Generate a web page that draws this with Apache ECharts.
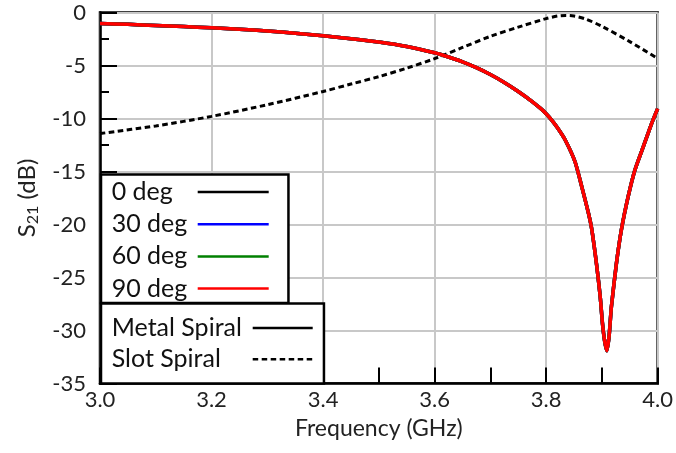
<!DOCTYPE html>
<html>
<head>
<meta charset="utf-8">
<script src="https://cdn.jsdelivr.net/npm/echarts@6/dist/echarts.min.js"></script>
<style>html,body{margin:0;padding:0;background:#fff}#c{width:676px;height:453px}</style>
</head>
<body>
<div id="c"></div>
<script>
// Frequency (GHz) and S21 (dB)
var metalFreq = [3.00,3.05,3.10,3.15,3.20,3.25,3.30,3.35,3.40,3.45,3.50,3.55,3.60,3.625,3.65,3.675,3.70,3.725,3.75,3.775,3.79,3.80,3.81,3.82,3.834,3.852,3.864,3.876,3.882,3.891,3.897,3.901,3.905,3.909,3.913,3.917,3.926,3.935,3.947,3.959,3.974,3.989,4.00];
var metalS21  = [-1.04,-1.12,-1.22,-1.33,-1.45,-1.58,-1.74,-1.95,-2.2,-2.47,-2.78,-3.2,-3.8,-4.2,-4.65,-5.2,-5.85,-6.6,-7.45,-8.4,-9.05,-9.55,-10.15,-10.85,-12.0,-14.1,-16.45,-18.96,-20.5,-24.0,-26.8,-29.3,-31.0,-31.9,-30.5,-27.8,-23.7,-20.5,-17.4,-14.9,-12.7,-10.5,-9.07];
var slotFreq = [3.0,3.1,3.2,3.3,3.4,3.45,3.5,3.55,3.6,3.65,3.7,3.75,3.8,3.82,3.835,3.85,3.87,3.9,3.95,4.0];
var slotS21  = [-11.42,-10.7,-9.8,-8.7,-7.45,-6.75,-6.05,-5.25,-4.35,-3.3,-2.25,-1.38,-0.58,-0.34,-0.28,-0.33,-0.6,-1.3,-2.75,-4.34];
var angleNames = ['0 deg','30 deg','60 deg','90 deg'];
var angleColors = ['#000000','#0000ff','#008000','#ff0000'];
var typeNames = ['Metal Spiral','Slot Spiral'];

function pairs(xs, ys){ return xs.map(function(x,i){ return [x, ys[i]]; }); }

var FONT = 'Lato';
var series = [];
series.push({name:'Slot Spiral', type:'line', data:pairs(slotFreq, slotS21), symbol:'none', smooth:0.3,
  lineStyle:{color:'#000', width:3, type:[5.5,3.5]}, itemStyle:{color:'#000'}, z:3});
angleNames.forEach(function(n,i){
  series.push({name:n, type:'line', data:pairs(metalFreq, metalS21), symbol:'none', smooth:0.2,
    lineStyle:{color:angleColors[i], width:3.5}, itemStyle:{color:angleColors[i]}, z:4+i});
});
series.push({name:'Metal Spiral', type:'line', data:[], symbol:'none',
  lineStyle:{color:'#000', width:3}, itemStyle:{color:'#000'}});

function legendCfg(names, top, pad, gap, iconW, textW){
  return {data:names, orient:'vertical', left:101, top:top, align:'right',
    backgroundColor:'#fff', borderColor:'#000', borderWidth:2.5, borderRadius:0,
    padding:pad, itemGap:gap, itemWidth:iconW, itemHeight:4,
    lineStyle:{width:2.5}, itemStyle:{color:'rgba(0,0,0,0)', borderWidth:0, opacity:0},
    selectedMode:false, z:10,
    formatter:function(n){ return '{t|' + n + '}'; },
    textStyle:{rich:{t:{fontFamily:FONT, fontSize:25, color:'#111', width:textW, align:'left', lineHeight:26}}}
  };
}

var chart = echarts.init(document.getElementById('c'), null, {renderer:'canvas'});
chart.setOption({
  animation:false,
  backgroundColor:'#fff',
  textStyle:{fontFamily:FONT},
  grid:{left:100, right:16.5, top:12.5, bottom:69.5, show:true, borderColor:'#000', borderWidth:2.5, containLabel:false},
  xAxis:{type:'value', min:3.0, max:4.0, interval:0.2,
    name:'Frequency (GHz)', nameLocation:'middle', nameGap:34,
    nameTextStyle:{fontFamily:FONT, fontSize:23, color:'#222'},
    axisLine:{show:true, onZero:false, lineStyle:{color:'#000', width:2.5}},
    axisTick:{show:true, inside:true, length:16, lineStyle:{color:'#000', width:2}},
    minorTick:{show:true, splitNumber:2, length:16, lineStyle:{color:'#000', width:2}},
    splitLine:{show:true, lineStyle:{color:'#c8c8c8', width:2}},
    axisLabel:{fontFamily:FONT, fontSize:22, color:'#222', margin:5,
      formatter:function(v){ return v.toFixed(1); }}
  },
  yAxis:{type:'value', min:-35, max:0, interval:5,
    name:'{s|S}{sub|21}{s| (dB)}', nameLocation:'middle', nameGap:59, nameRotate:90,
    nameTextStyle:{rich:{s:{fontFamily:FONT, fontSize:24, color:'#222'}, sub:{fontFamily:FONT, fontSize:16, color:'#222', padding:[12,0,0,0]}}},
    axisLine:{show:true, onZero:false, lineStyle:{color:'#000', width:2.5}},
    axisTick:{show:true, inside:true, length:17, lineStyle:{color:'#000', width:2}},
    minorTick:{show:true, splitNumber:2, length:9, lineStyle:{color:'#000', width:2}},
    splitLine:{show:true, lineStyle:{color:'#c8c8c8', width:2}},
    axisLabel:{fontFamily:FONT, fontSize:22, color:'#222', margin:14}
  },
  legend:[
    legendCfg(angleNames, 174.5, [5,18.5,2,10.7], 7.2, 71, 81),
    legendCfg(typeNames, 303.5, [12,10,11.7,10.7], 6.3, 60, 136)
  ],
  series:series
});
</script>
</body>
</html>
